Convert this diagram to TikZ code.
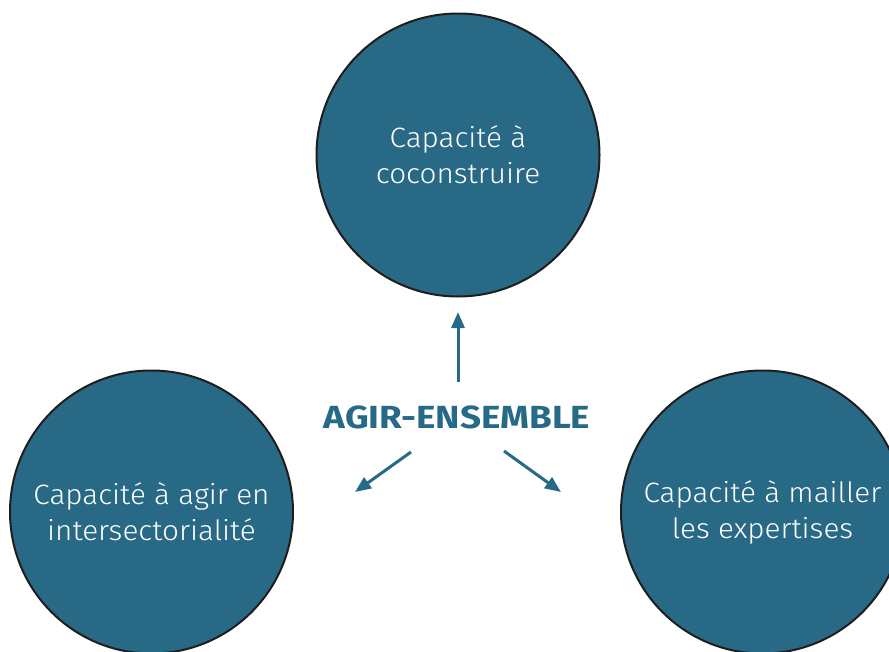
\documentclass[tikz,border=0pt]{standalone}
\usepackage{fontspec}
\setmainfont{Fira Sans}
\newfontfamily\lightfont{Fira Sans Light}[FakeStretch=1.06]
\newfontfamily\boldwide{Fira Sans}[FakeStretch=1.15]
\usetikzlibrary{arrows.meta}
\definecolor{circfill}{HTML}{286985}
\definecolor{tealtxt}{HTML}{276A87}
\definecolor{rim}{HTML}{1E1E1E}
\tikzset{
  capbox/.style={circle, fill=circfill, draw=rim, line width=2pt, minimum size=283pt, inner sep=0pt,
    text=white, align=center, font=\lightfont\fontsize{28}{36}\selectfont},
  arr/.style={draw=tealtxt, line width=3pt, -{Triangle[length=16pt,width=13pt]}}
}
\begin{document}
\begin{tikzpicture}[x=1pt,y=-1pt]
\useasboundingbox (0,0) rectangle (889,651);
\clip (0,0) rectangle (889,651);
\node[capbox] (top) at (458,155) {Capacité à\\coconstruire};
\node[capbox] (left) at (151.5,512) {Capacité à agir en\\intersectorialité};
\node[capbox] (right) at (762.5,512) {Capacité à mailler\\les expertises};
\node[text=tealtxt, font=\boldwide\bfseries\fontsize{32}{36}\selectfont] (agir) at (457,417) {AGIR-ENSEMBLE};
\coordinate (us) at (458,382);
\coordinate (ue) at (458,312);
\coordinate (ls) at (411,452);
\coordinate (le) at (355,492);
\coordinate (rs) at (504,451);
\coordinate (re) at (561,492);
\draw[arr] (us) -- (ue);
\draw[arr] (ls) -- (le);
\draw[arr] (rs) -- (re);
\end{tikzpicture}
\end{document}
